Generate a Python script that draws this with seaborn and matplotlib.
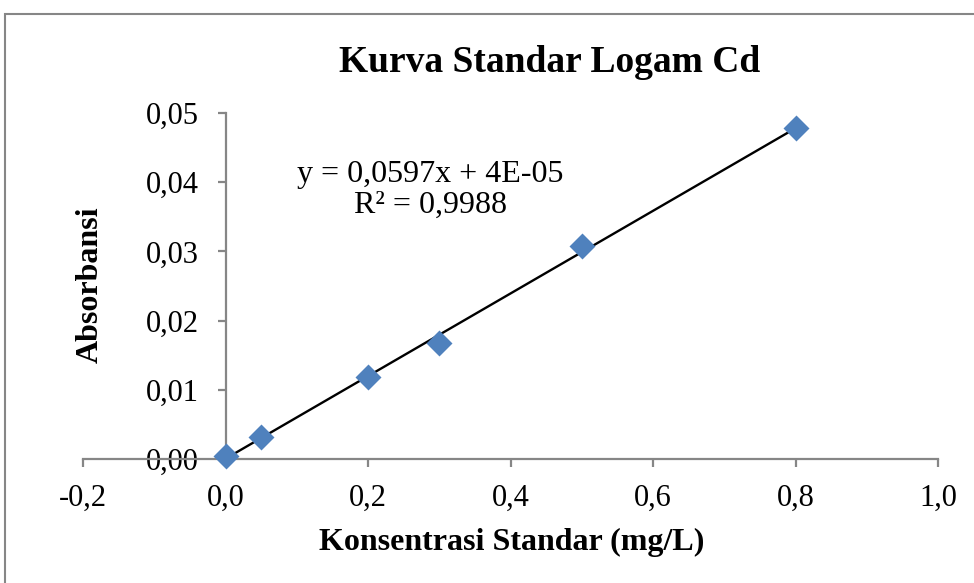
import matplotlib
matplotlib.use("Agg")
import matplotlib.pyplot as plt
import seaborn as sns
import pandas as pd
from matplotlib.patches import Rectangle

# Data
konsentrasi = [0.0, 0.05, 0.2, 0.3, 0.5, 0.8]
absorbansi = [0.0005, 0.0032, 0.0118, 0.0168, 0.0308, 0.0479]
slope = 0.0597
intercept = 0.00004
x_ticks = [-0.2, 0.0, 0.2, 0.4, 0.6, 0.8, 1.0]
x_tick_labels = ["-0,2", "0,0", "0,2", "0,4", "0,6", "0,8", "1,0"]
y_ticks = [0.0, 0.01, 0.02, 0.03, 0.04, 0.05]
y_tick_labels = ["0,00", "0,01", "0,02", "0,03", "0,04", "0,05"]

sns.set_theme(style="white")
plt.rcParams["font.family"] = ["Liberation Serif", "DejaVu Serif"]
plt.rcParams["text.color"] = "black"

fig = plt.figure(figsize=(9.74, 5.83), dpi=100)
ax = fig.add_axes([83/974, 1-459/583, (938-83)/974, (459-113)/583])

df = pd.DataFrame({"x": konsentrasi, "y": absorbansi})
trend = pd.DataFrame({"x": [min(konsentrasi), max(konsentrasi)]})
trend["y"] = slope * trend["x"] + intercept

sns.lineplot(data=trend, x="x", y="y", ax=ax, color="black", linewidth=1.7, zorder=2)
sns.scatterplot(data=df, x="x", y="y", ax=ax, marker="D", s=175, color="#4F81BD",
                edgecolor="#4F81BD", linewidth=0, zorder=3, clip_on=False)

ax.set_xlim(-0.2, 1.0)
ax.set_ylim(0, 0.05)
ax.set_xticks(x_ticks)
ax.set_xticklabels(x_tick_labels)
ax.set_yticks(y_ticks)
ax.set_yticklabels(y_tick_labels)
ax.set_xlabel("")
ax.set_ylabel("")

axis_color = "#868686"
for side in ["top", "right"]:
    ax.spines[side].set_visible(False)
ax.spines["left"].set_position(("data", 0))
ax.spines["bottom"].set_position(("data", 0))
for side in ["left", "bottom"]:
    ax.spines[side].set_color(axis_color)
    ax.spines[side].set_linewidth(1.6)
ax.tick_params(axis="both", which="major", direction="out", length=6, width=1.6,
               color=axis_color, labelsize=22, labelcolor="black")
ax.tick_params(axis="x", pad=12, bottom=True)
ax.tick_params(axis="y", pad=13, left=True)
ax.patch.set_alpha(0)
for lbl in ax.get_yticklabels():
    lbl.set_zorder(5)

ax.text(0.2875, 0.0389, "y = 0,0597x + 4E-05\nR² = 0,9988", ha="center", va="center",
        fontsize=23, multialignment="center", linespacing=1.05, color="black")

fig.text(550/974, 1-62/583, "Kurva Standar Logam Cd", ha="center", va="center",
         fontsize=27, fontweight="bold", color="black")
fig.text(512/974, 1-542/583, "Konsentrasi Standar (mg/L)", ha="center", va="center",
         fontsize=23, fontweight="bold", color="black")
fig.text(90/974, 1-285/583, "Absorbansi", ha="center", va="center", rotation=90,
         fontsize=23, fontweight="bold", color="black")

fig.patches.append(Rectangle((5/974, -0.1), 1.2, 1.1 - 14/583, transform=fig.transFigure,
                             fill=False, edgecolor=axis_color, linewidth=1.5))

fig.savefig("out.png", dpi=100, facecolor="white")
